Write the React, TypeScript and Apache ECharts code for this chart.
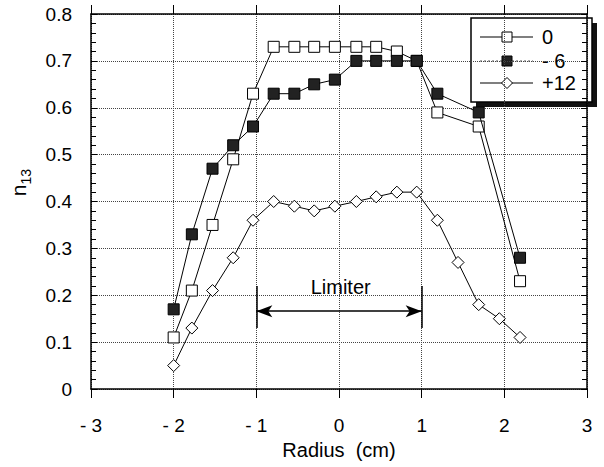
import React, { useEffect, useRef } from "react";
import * as echarts from "echarts";

const xCommon = [-2, -1.78, -1.53, -1.28, -1.04, -0.79, -0.54, -0.3, -0.05, 0.21, 0.45, 0.7, 0.94, 1.19, 1.69, 2.19];
const values0 = [0.11, 0.21, 0.35, 0.49, 0.63, 0.73, 0.73, 0.73, 0.73, 0.73, 0.73, 0.72, 0.7, 0.59, 0.56, 0.23];
const valuesM6 = [0.17, 0.33, 0.47, 0.52, 0.56, 0.63, 0.63, 0.65, 0.66, 0.7, 0.7, 0.7, 0.7, 0.63, 0.59, 0.28];
const xP12 = [-2, -1.78, -1.53, -1.28, -1.04, -0.79, -0.54, -0.3, -0.05, 0.21, 0.45, 0.7, 0.94, 1.19, 1.44, 1.69, 1.94, 2.19];
const valuesP12 = [0.05, 0.13, 0.21, 0.28, 0.36, 0.4, 0.39, 0.38, 0.39, 0.4, 0.41, 0.42, 0.42, 0.36, 0.27, 0.18, 0.15, 0.11];
const seriesNames = ["0", "- 6", "+12"];

const limiterRange = [-1, 1];
const limiterArrowY = 0.166;
const limiterBar = [0.13, 0.22];
const limiterLabelPos = [0.02, 0.218];
const limiterText = "Limiter";

const xTitle = "Radius  (cm)";

const FONT = "'Liberation Sans', Arial, Helvetica, sans-serif";

const zip = (xs: number[], ys: number[]) => xs.map((x, i) => [x, ys[i]]);

function buildLegend() {
  const L = 471, T = 18, W = 121, H = 84, SH = 5;
  const rows = [37, 61, 83];
  const lineX0 = 480, lineX1 = 533, textX = 542;
  const els: any[] = [
    { type: "rect", shape: { x: L + SH, y: T + SH, width: W, height: H }, style: { fill: "#111" } },
    { type: "rect", shape: { x: L, y: T, width: W, height: H }, style: { fill: "#fff", stroke: "#000", lineWidth: 1.5 } },
  ];
  rows.forEach((cy, i) => {
    const dotted = i === 1;
    els.push({
      type: "line",
      shape: { x1: lineX0, y1: cy, x2: lineX1, y2: cy },
      style: { stroke: dotted ? "#555" : "#000", lineWidth: 1.2, lineDash: dotted ? [2, 2] : null },
    });
    const mx = 507;
    if (i === 0) {
      els.push({ type: "rect", shape: { x: mx - 5, y: cy - 5, width: 10, height: 10 }, style: { fill: "#fff", stroke: "#000", lineWidth: 1 } });
    } else if (i === 1) {
      els.push({ type: "rect", shape: { x: mx - 5, y: cy - 5, width: 10, height: 10 }, style: { fill: "#222", stroke: "#000", lineWidth: 1 } });
    } else {
      els.push({
        type: "polygon",
        shape: { points: [[mx, cy - 5.5], [mx + 5.5, cy], [mx, cy + 5.5], [mx - 5.5, cy]] },
        style: { fill: "#fff", stroke: "#000", lineWidth: 1 },
      });
    }
    els.push({
      type: "text",
      x: textX,
      y: cy,
      style: { text: seriesNames[i], font: `20px ${FONT}`, fill: "#000", verticalAlign: "middle", align: "left" },
    });
  });
  return { type: "group", z: 50, silent: true, children: els };
}

export default function App() {
  const ref = useRef<HTMLDivElement>(null);
  useEffect(() => {
    if (!ref.current) return;
    const chart = echarts.init(ref.current, undefined, { renderer: "svg" });
    const fmtX = (v: number) => (v < 0 ? "- " + Math.abs(v) : String(v));
    const fmtY = (v: number) => (Math.abs(v) < 1e-9 ? "0" : v.toFixed(1));
    const baseX = {
      type: "value",
      min: -3,
      max: 3,
      interval: 1,
    };
    const baseY = {
      type: "value",
      min: 0,
      max: 0.8,
      interval: 0.1,
    };
    chart.setOption({
      animation: false,
      backgroundColor: "#fff",
      textStyle: { fontFamily: FONT, color: "#000" },
      grid: { left: 91, right: 17, top: 14, bottom: 78, containLabel: false },
      graphic: { elements: [buildLegend()] },
      legend: { show: false, data: seriesNames },
      xAxis: [
        {
          ...baseX,
          position: "bottom",
          name: xTitle,
          nameLocation: "middle",
          nameGap: 44,
          nameTextStyle: { fontFamily: FONT, fontSize: 20, color: "#000", verticalAlign: "top" },
          axisLine: { show: true, onZero: false, lineStyle: { color: "#000", width: 1.5 } },
          axisTick: { show: true, inside: false, length: 9, lineStyle: { color: "#000" } },
          axisLabel: { formatter: fmtX, fontSize: 19, color: "#000", margin: 27, fontFamily: FONT },
          splitLine: { show: true, lineStyle: { type: "dotted", color: "#444", width: 1 } },
        },
        {
          ...baseX,
          position: "top",
          axisLine: { show: true, onZero: false, lineStyle: { color: "#000", width: 1.5 } },
          axisTick: { show: true, inside: false, length: 9, lineStyle: { color: "#000" } },
          axisLabel: { show: false },
          splitLine: { show: false },
        },
      ],
      yAxis: [
        {
          ...baseY,
          position: "left",
          name: "{n|n}{s|13}",
          nameLocation: "middle",
          nameRotate: 90,
          nameGap: 62,
          nameTextStyle: {
            padding: [0, 0, 0, 38],
            rich: {
              n: { fontSize: 21, fontFamily: FONT, color: "#000", verticalAlign: "bottom", lineHeight: 22 },
              s: { fontSize: 14, fontFamily: FONT, color: "#000", verticalAlign: "bottom", lineHeight: 16, padding: [0, 0, -4, 0] },
            },
          },
          axisLine: { show: true, onZero: false, lineStyle: { color: "#000", width: 1.5 } },
          axisTick: { show: true, inside: true, length: 6, lineStyle: { color: "#000" } },
          minorTick: { show: true, splitNumber: 5, length: 5, lineStyle: { color: "#000" } },
          axisLabel: { formatter: fmtY, fontSize: 19, color: "#000", margin: 19, fontFamily: FONT },
          splitLine: { show: true, lineStyle: { type: "dotted", color: "#444", width: 1 } },
        },
        {
          ...baseY,
          position: "right",
          axisLine: { show: true, onZero: false, lineStyle: { color: "#000", width: 1.5 } },
          axisTick: { show: true, inside: true, length: 6, lineStyle: { color: "#000" } },
          minorTick: { show: true, splitNumber: 5, length: 5, lineStyle: { color: "#000" } },
          axisLabel: { show: false },
          splitLine: { show: false },
        },
      ],
      series: [
        {
          name: seriesNames[0],
          type: "line",
          data: zip(xCommon, values0),
          symbol: "rect",
          symbolSize: 11,
          lineStyle: { color: "#000", width: 1 },
          itemStyle: { color: "#fff", borderColor: "#000", borderWidth: 1 },
          z: 2,
        },
        {
          name: seriesNames[1],
          type: "line",
          data: zip(xCommon, valuesM6),
          symbol: "rect",
          symbolSize: 11,
          lineStyle: { color: "#000", width: 1 },
          itemStyle: { color: "#222", borderColor: "#000", borderWidth: 1 },
          z: 3,
        },
        {
          name: seriesNames[2],
          type: "line",
          data: zip(xP12, valuesP12),
          symbol: "diamond",
          symbolSize: 12,
          lineStyle: { color: "#000", width: 1 },
          itemStyle: { color: "#fff", borderColor: "#000", borderWidth: 1 },
          z: 4,
        },
        {
          name: "limiter",
          type: "line",
          data: [],
          silent: true,
          markLine: {
            silent: true,
            symbol: ["none", "none"],
            label: { show: false },
            lineStyle: { color: "#000", type: "solid", width: 1.5 },
            emphasis: { disabled: true },
            data: [
              [
                { coord: [limiterRange[0], limiterArrowY], symbol: "arrow", symbolSize: [9, 16] },
                { coord: [limiterRange[1], limiterArrowY], symbol: "arrow", symbolSize: [9, 16] },
              ],
              [
                { coord: [limiterRange[0], limiterBar[0]] },
                { coord: [limiterRange[0], limiterBar[1]] },
              ],
              [
                { coord: [limiterRange[1], limiterBar[0]] },
                { coord: [limiterRange[1], limiterBar[1]] },
              ],
            ],
          },
          markPoint: {
            silent: true,
            symbol: "circle",
            symbolSize: 0,
            label: {
              show: true,
              position: "inside",
              formatter: limiterText,
              fontSize: 20,
              fontFamily: FONT,
              color: "#000",
            },
            data: [{ coord: limiterLabelPos }],
          },
        },
      ],
    });
    return () => chart.dispose();
  }, []);
  return (
    <div
      ref={ref}
      style={{ position: "fixed", left: 0, top: 0, width: 604, height: 467, background: "#fff" }}
    />
  );
}
